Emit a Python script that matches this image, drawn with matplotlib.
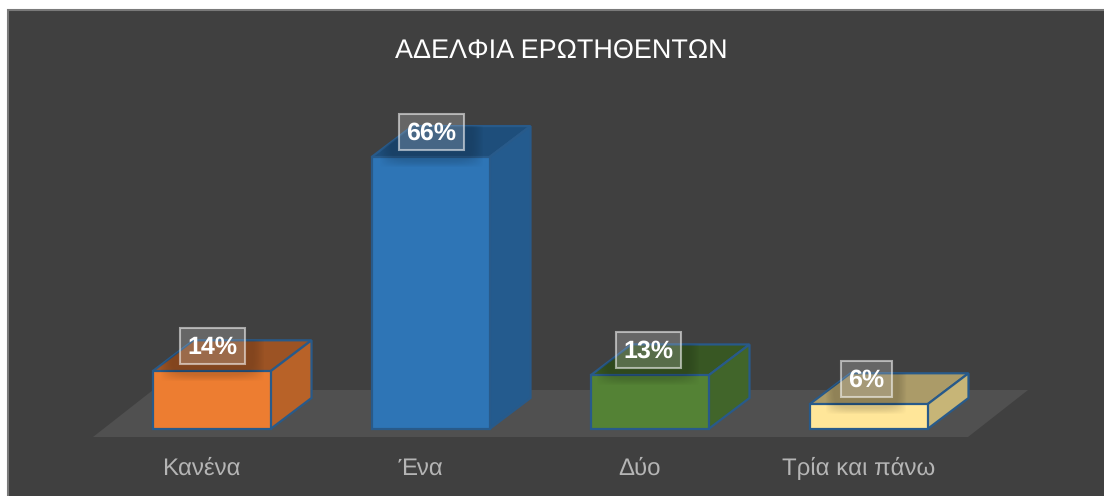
import matplotlib
matplotlib.use('Agg')
import matplotlib.pyplot as plt
import numpy as np
from matplotlib.patches import Polygon, Rectangle

categories = ['Κανένα', 'Ένα', 'Δύο', 'Τρία και πάνω']
values = [14, 66, 13, 6]
front_colors = ['#ed7d31', '#2e75b6', '#548235', '#ffe699']
top_colors = ['#9c5324', '#1e4e7b', '#385723', '#ab9b68']
side_colors = ['#b86228', '#245b8e', '#41652a', '#c7b577']

W, H = 1104, 496
plt.rcParams['font.family'] = ['Liberation Sans', 'DejaVu Sans']
plt.rcParams['text.hinting'] = 'none'
plt.rcParams['text.hinting_factor'] = 1

fig = plt.figure(figsize=(W / 100, H / 100), dpi=100, facecolor='white')
ax = fig.add_axes([0, 0, 1, 1])

# scale: one category = 219 px, one percent = 4.12 px, y=0 at pixel row 429
px_x = 219.0
px_y = 4.12
x0 = 212.0
y0 = 429.0
ax.set_xlim(-x0 / px_x, (W - x0) / px_x)
ax.set_ylim(-(H - y0) / px_y, y0 / px_y)
ax.axis('off')


def dx(p):
    return p / px_x


def dy(p):
    return p / px_y


# background panel, border shows only on top and left
ax.add_patch(Rectangle((dx(7.5 - x0), dy(y0 - 500)), dx(1110), dy(489.5),
                       facecolor='#404040', edgecolor='#7a7a7a', lw=1.5, zorder=0))

# floor
floor = [(dx(93 - x0), dy(-8)), (dx(968 - x0), dy(-8)),
         (dx(1028 - x0), dy(39)), (dx(153 - x0), dy(39))]
ax.add_patch(Polygon(floor, closed=True, facecolor='#505050', edgecolor='none', zorder=1))

bar_w = dx(118)
depth_x = dx(41)
depth_y = dy(31)
edge = '#285a8a'
label_shift = [0, 0, -2, -3]

for i, v in enumerate(values):
    l = i - bar_w / 2 - dx(0.5)
    r = i + bar_w / 2 - dx(0.5)
    top = [(l, v), (r, v), (r + depth_x, v + depth_y), (l + depth_x, v + depth_y)]
    side = [(r, 0), (r + depth_x, depth_y), (r + depth_x, v + depth_y), (r, v)]
    ax.add_patch(Polygon(top, closed=True, facecolor=top_colors[i], edgecolor=edge, lw=1.6, zorder=2))
    ax.add_patch(Polygon(side, closed=True, facecolor=side_colors[i], edgecolor=edge, lw=1.6, zorder=2))
    front = Rectangle((l, 0), bar_w, v, facecolor=front_colors[i], edgecolor=edge, lw=1.6, zorder=3)
    ax.add_patch(front)

    # soft shadow under the value label
    box_w = 51 if v < 10 else 65
    cx = i + dx(label_shift[i])
    yy, xx = np.mgrid[-1:1:60j, -1:1:120j]
    a = np.clip(1.6 * (1 - np.abs(xx) ** 4) * (1 - np.abs(yy) ** 4), 0, 1) * 0.16
    shadow = np.zeros((60, 120, 4))
    shadow[..., 3] = a
    sy = v + dy(25.5)
    for face in [top, None]:
        im = ax.imshow(shadow, extent=(cx - dx(box_w * 0.8), cx + dx(box_w * 0.8),
                                       sy - dy(36), sy + dy(24)),
                       aspect='auto', zorder=3.5, interpolation='bilinear')
        if face is None:
            im.set_clip_path(front)
        else:
            clip = Polygon(face, closed=True, transform=ax.transData)
            im.set_clip_path(clip)

    # value label
    ax.add_patch(Rectangle((cx - dx(box_w / 2), sy - dy(18)), dx(box_w), dy(36),
                           facecolor=(1, 1, 1, 0.2), edgecolor=(1, 1, 1, 0.55), lw=1.5, zorder=4))
    ax.text(cx, sy - dy(1.5), f'{v}%', color='white', fontsize=18, fontweight='bold',
            ha='center', va='center', zorder=5)

    ax.text(i - dx(10.5), dy(-39.5), categories[i], color='#b5b5b5', fontsize=17.4,
            ha='center', va='center', zorder=5)

ax.set_xlim(-x0 / px_x, (W - x0) / px_x)
ax.set_ylim(-(H - y0) / px_y, y0 / px_y)

ax.text(dx(561.5 - x0), dy(y0 - 52), 'ΑΔΕΛΦΙΑ ΕΡΩΤΗΘΕΝΤΩΝ', color='white', fontsize=19.1,
        ha='center', va='center', zorder=5)

fig.savefig('out.png', dpi=100, facecolor='white')
